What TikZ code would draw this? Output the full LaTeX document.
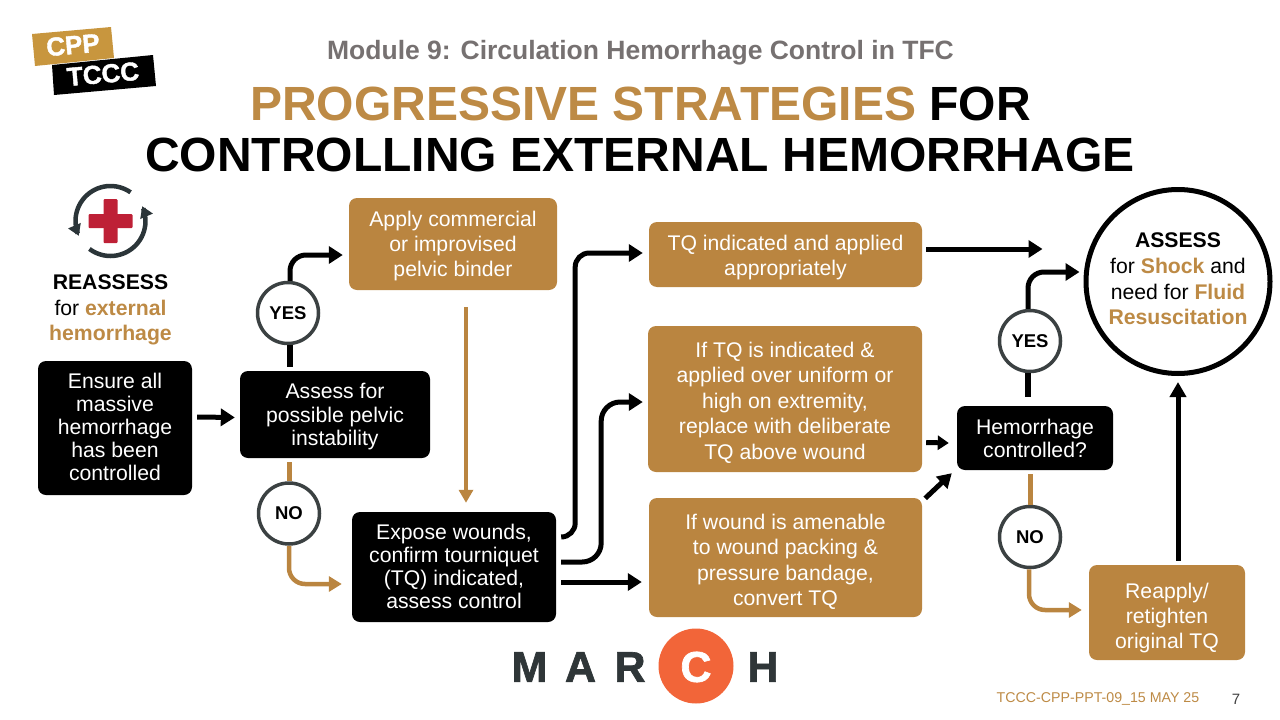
\documentclass[tikz,border=0pt]{standalone}
\usepackage{fontspec}
\setmainfont{Liberation Sans}
\newfontfamily\heavyf[FakeBold=1.6]{Liberation Sans Bold}
\usetikzlibrary{arrows.meta,calc}
\definecolor{tan}{HTML}{BA8540}
\definecolor{tantext}{HTML}{BD8A45}
\definecolor{logotan}{HTML}{C8963E}
\definecolor{ringdark}{HTML}{3B4142}
\definecolor{icondark}{HTML}{2B3539}
\definecolor{crossred}{HTML}{BE2036}
\definecolor{marchdark}{HTML}{2F3638}
\definecolor{marchorange}{HTML}{F26539}
\definecolor{titlegray}{HTML}{767171}
\newcommand{\fs}[2]{\fontsize{#1}{#2}\selectfont}
\newcommand{\tn}[1]{\textcolor{tantext}{\textbf{#1}}}
% push box text down (first-line strut) or up (last-line depth)
\newcommand{\dn}[1]{\rule{0pt}{\dimexpr 15.5pt+2\dimexpr #1pt\relax\relax}}
\newcommand{\up}[1]{\rule[-\dimexpr #1pt\relax]{0pt}{0pt}}
\tikzset{
  x=1pt,y=-1pt,
  box/.style={rounded corners=8pt,inner sep=0pt,align=center,text=white,font=\fs{21.2}{#1}},
  blackbox/.style={box=#1,fill=black},
  tanbox/.style={box=#1,fill=tan},
  yn/.style={circle,draw=ringdark,line width=3.5pt,fill=white,minimum size=61pt,inner sep=0pt,font=\fs{18.5}{20}\bfseries},
  blk/.style={draw=black,line width=5pt,rounded corners=16pt,-{Triangle[length=14pt,width=17pt]}},
  tanl/.style={draw=tan,line width=4.5pt,rounded corners=16pt,-{Triangle[length=13pt,width=15pt]}},
  plainblk/.style={draw=black,line width=6pt},
  plaintan/.style={draw=tan,line width=5pt},
  title/.style={inner sep=0pt,font=\fs{48}{48}\bfseries},
  marchl/.style={inner sep=0pt,text=marchdark,font=\fs{43}{43}\heavyf},
  free/.style={inner sep=0pt,align=center}
}
\begin{document}
\begin{tikzpicture}
\useasboundingbox (0,0) rectangle (1280,720);
% logo
\fill[logotan] (32,34) -- (111,27) -- (114,58) -- (35,66) -- cycle;
\fill[black] (52,65) -- (153,55) -- (156,86) -- (54,95) -- cycle;
\node[free,rotate=5,text=white,font=\fs{26}{26}\heavyf] (cpplogo) at (73,45) {CPP};
\node[free,rotate=5,text=white,font=\fs{26}{26}\heavyf] (tccclogo) at (103,74) {TCCC};
% titles
\node[free,text=titlegray,font=\fs{26.5}{26.5}\bfseries] (module) at (640.5,52.5) {Module 9: Circulation Hemorrhage Control in TFC};
\node[title] (t1) at (640.5,104) {\textcolor{tantext}{PROGRESSIVE STRATEGIES} FOR};
\node[title] (t2) at (640,155) {CONTROLLING EXTERNAL HEMORRHAGE};
% reassess icon
\begin{scope}[shift={(110.5,221)}]
\draw[icondark,line width=4.5pt,-{Triangle[length=11pt,width=13pt]}] plot[smooth,domain=55:205,samples=30] ({35*cos(\x)},{-35*sin(\x)});
\draw[icondark,line width=4.5pt,-{Triangle[length=11pt,width=13pt]}] plot[smooth,domain=233:385,samples=30] ({35*cos(\x)},{-35*sin(\x)});
\fill[crossred,rounded corners=1pt] (-7,-22) rectangle (7,22);
\fill[crossred,rounded corners=1pt] (-22,-7) rectangle (22,7);
\end{scope}
\node[free,font=\fs{21.2}{25.5}] (reassess) at (110.5,310) {\textbf{REASSESS}\\for \tn{external}\\\tn{hemorrhage}};
% boxes
\node[blackbox=23,minimum width=154pt,minimum height=134pt] (ensure) at (115,428) {Ensure all\\massive\\hemorrhage\\has been\\controlled\up{3}};
\node[blackbox=23.5,minimum width=190pt,minimum height=87pt] (pelvic) at (335,414.5) {\dn{2}Assess for\\possible pelvic\\instability};
\node[tanbox=25,minimum width=208pt,minimum height=92pt] (binder) at (453,244) {\dn{2}Apply commercial\\or improvised\\pelvic binder};
\node[blackbox=23,minimum width=204pt,minimum height=110pt] (expose) at (454,567) {Expose wounds,\\confirm tourniquet\\(TQ) indicated,\\assess control\up{2}};
\node[tanbox=25,minimum width=273pt,minimum height=65pt] (tqok) at (785.5,254.5) {\dn{3}TQ indicated and applied\\appropriately};
\node[tanbox=25.5,minimum width=274pt,minimum height=146pt] (tqif) at (785,399) {\dn{3.5}If TQ is indicated \&\\applied over uniform or\\high on extremity,\\replace with deliberate\\TQ above wound};
\node[tanbox=25.5,minimum width=273pt,minimum height=119pt] (packing) at (785.5,557.5) {\dn{4}If wound is amenable\\to wound packing \&\\pressure bandage,\\convert TQ};
\node[blackbox=23,minimum width=156pt,minimum height=64pt] (controlled) at (1035,438) {Hemorrhage\\controlled?};
\node[tanbox=25,minimum width=156pt,minimum height=95pt] (reapply) at (1167,612.5) {\dn{5}Reapply/\\retighten\\original TQ};
\node[circle,draw=black,line width=5pt,fill=white,minimum size=184pt,inner sep=0pt] (shock) at (1178,281.5) {};
\node[free,font=\fs{21.2}{25.7}] (shocktext) at (1178,279) {\textbf{ASSESS}\\for \tn{Shock} and\\need for \tn{Fluid}\\\tn{Resuscitation}};
\node[yn] (yes1) at (288,313) {YES};
\node[yn] (no1) at (289,513.5) {NO};
\node[yn] (yes2) at (1030,341) {YES};
\node[yn] (no2) at (1030,537) {NO};
% connectors
\draw[blk] ($(ensure.east)+(5,-11)$) -- ($(pelvic.west)+(-5,3)$);
\draw[plainblk] ($(pelvic.north -| yes1)+(2,-4)$) -- ($(yes1.south)+(2,0)$);
\draw[blk] ($(yes1.north)+(2,0)$) |- ($(binder.west)+(-6,11)$);
\draw[plaintan] ($(pelvic.south -| no1)+(0,4)$) -- (no1.north);
\draw[tanl] (no1.south) |- ($(expose.west)+(-10,17)$);
\draw[draw=tan,line width=3.5pt,-{Triangle[length=13pt,width=14pt]}] ($(binder.south)+(13,17)$) -- ($(expose.north)+(12,-9)$);
\draw[blk,rounded corners=14pt] ($(expose.east)+(5,-30)$) -| ($(expose.east)+(19,-120)$) |- ($(tqok.west)+(-6,-1.5)$);
\draw[blk,rounded corners=19pt] ($(expose.east)+(5,-5)$) -| ($(expose.east)+(45,-80)$) |- ($(tqif.west)+(-5,3)$);
\draw[blk] ($(expose.east)+(5,15)$) -- ($(packing.west)+(-7,24.5)$);
\draw[blk] ($(tqok.east)+(4,-5.5)$) -- ($(shock.west)+(-41,-32.5)$);
\draw[blk,-{Triangle[length=11pt,width=14pt]}] ($(tqif.east)+(4,43.5)$) -- ($(controlled.west)+(-8,5)$);
\draw[blk,-{Triangle[length=14pt,width=16pt]}] ($(packing.north east)+(3,0.5)$) -- ($(controlled.south west)+(-5,3)$);
\draw[plainblk] ($(controlled.north -| yes2)+(-2,-9)$) -- ($(yes2.south)+(-2,0)$);
\draw[blk] ($(yes2.north)+(-2,0)$) |- ($(shock.west)+(-4,-9.5)$);
\draw[plaintan] ($(controlled.south -| no2)+(0,4)$) -- (no2.north);
\draw[tanl] ($(no2.south)+(-1,0)$) |- ($(reapply.west)+(-7,-2.5)$);
\draw[draw=black,line width=5pt,-{Triangle[length=15pt,width=16pt]}] ($(reapply.north -| shock)+(0,-4)$) -- ($(shock.south)+(0,6)$);
% march
\fill[marchorange] (696,666) circle (37.5);
\node[marchl] (mM) at (529.5,667) {M};
\node[marchl] (mA) at (580.5,667) {A};
\node[marchl] (mR) at (630,667) {R};
\node[marchl,text=white] (mC) at (696,667) {C};
\node[marchl] (mH) at (763,667) {H};
% footer
\node[free,text=tantext,font=\fs{14.2}{14}] (foot) at (1098,699) {TCCC-CPP-PPT-09\_15 MAY 25};
\node[free,text=black!75,font=\fs{15}{15}] (page) at (1236,699) {7};
\end{tikzpicture}
\end{document}
